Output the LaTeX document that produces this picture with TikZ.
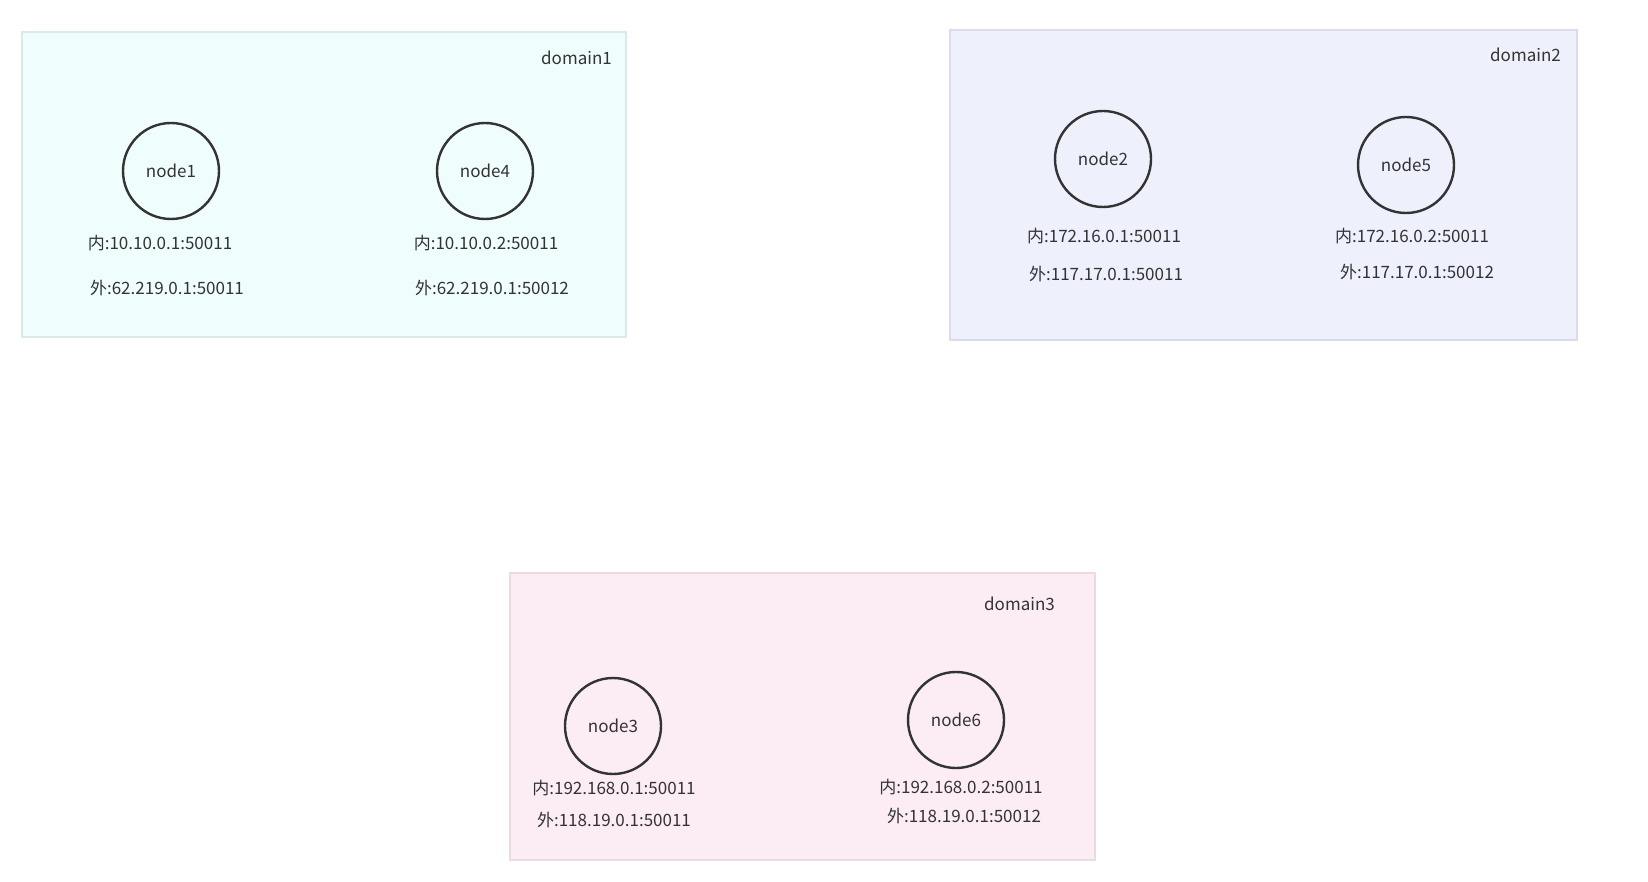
\documentclass[tikz,border=0pt]{standalone}
\usepackage{fontspec}
\setmainfont{Noto Sans CJK SC}
\usetikzlibrary{positioning}
\definecolor{paper}{HTML}{FFFFFF}
\definecolor{ink}{HTML}{333333}
\definecolor{fillA}{HTML}{F0FDFD}
\definecolor{strokeA}{HTML}{DDE9E9}
\definecolor{fillB}{HTML}{EEF0FC}
\definecolor{strokeB}{HTML}{DADCEC}
\definecolor{fillC}{HTML}{FCEDF5}
\definecolor{strokeC}{HTML}{EBDAE3}

\begin{document}
\begin{tikzpicture}[
  x=1pt, y=-1pt,
  font=\fontsize{17}{20}\selectfont,
  domainBox/.style={
    rectangle, line width=2.5pt,
    inner sep=0pt
  },
  hostNode/.style={
    circle, draw=ink, line width=2.4pt,
    minimum size=96pt, inner sep=0pt,
    text=ink
  },
  addr/.style={text=ink, inner sep=1pt},
  domainTitle/.style={text=ink, anchor=east, inner sep=1pt}
]

% Force the reference size, 1648 x 882
\useasboundingbox[fill=paper] (0,0) rectangle (1648,882);

% Domain boxes
\node[domainBox, fill=fillA, draw=strokeA, minimum width=604pt, minimum height=305pt] (d1) at (324,184.5) {};
\node[domainBox, fill=fillB, draw=strokeB, minimum width=627pt, minimum height=310pt] (d2) at (1263.5,185) {};
\node[domainBox, fill=fillC, draw=strokeC, minimum width=585pt, minimum height=287pt] (d3) at (802.5,716.5) {};

\node[domainTitle] (t1) at (613,58) {domain1};
\node[domainTitle] (t2) at (1562,55) {domain2};
\node[domainTitle] (t3) at (1056,604) {domain3};

% domain1 hosts
\node[hostNode] (n1) at (171,171) {node1};
\node[hostNode] (n4) at (485,171) {node4};
\node[addr] (n1in)  at (160,243) {内:10.10.0.1:50011};
\node[addr] (n1out) at (167,288) {外:62.219.0.1:50011};
\node[addr] (n4in)  at (486,243) {内:10.10.0.2:50011};
\node[addr] (n4out) at (492,288) {外:62.219.0.1:50012};

% domain2 hosts
\node[hostNode] (n2) at (1103,159) {node2};
\node[hostNode] (n5) at (1406,165) {node5};
\node[addr] (n2in)  at (1104,236) {内:172.16.0.1:50011};
\node[addr] (n2out) at (1106,274) {外:117.17.0.1:50011};
\node[addr] (n5in)  at (1412,236) {内:172.16.0.2:50011};
\node[addr] (n5out) at (1417,272) {外:117.17.0.1:50012};

% domain3 hosts
\node[hostNode] (n3) at (613,726) {node3};
\node[hostNode] (n6) at (956,720) {node6};
\node[addr] (n3in)  at (614,788) {内:192.168.0.1:50011};
\node[addr] (n3out) at (614,820) {外:118.19.0.1:50011};
\node[addr] (n6in)  at (961,787) {内:192.168.0.2:50011};
\node[addr] (n6out) at (964,816) {外:118.19.0.1:50012};

\end{tikzpicture}
\end{document}
